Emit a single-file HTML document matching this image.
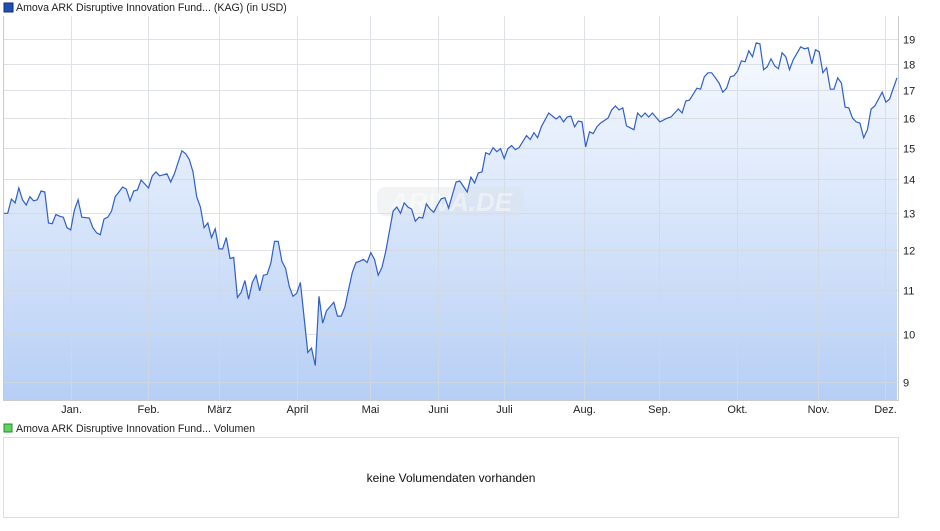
<!DOCTYPE html>
<html><head><meta charset="utf-8"><style>
body{margin:0;background:#fff;width:940px;height:526px;overflow:hidden;font-family:"Liberation Sans",Arial,sans-serif}
svg text{font-family:"Liberation Sans",Arial,sans-serif}
</style></head><body>
<svg id="c" width="940" height="526">
<defs><linearGradient id="g" x1="0" y1="0" x2="0" y2="1"><stop offset="0" stop-color="#f7faff"/><stop offset="1" stop-color="#b7cff5"/></linearGradient></defs>
<rect x="4" y="3" width="9" height="9" fill="#1f4fb0" stroke="#0d2f7a" stroke-width="1"/>
<text x="16" y="11" font-size="10.6" fill="#222">Amova ARK Disruptive Innovation Fund... (KAG) (in USD)</text>
<path id="area" fill="url(#g)"/>
<g id="grid" opacity="0.75"></g>
<g id="wm"><rect x="377" y="187" width="147" height="29" rx="8" fill="#dde1e7" opacity="0.4"/><text x="451" y="211" font-size="26" font-style="italic" font-weight="bold" fill="#ffffff" opacity="0.45" text-anchor="middle">ARIVA.DE</text></g>
<path id="line" fill="none" stroke="#2f5fc8" stroke-width="1.2"/>
<line x1="3.5" y1="16" x2="3.5" y2="401" stroke="#ccc"/>
<line x1="898.5" y1="16" x2="898.5" y2="401" stroke="#ccc"/>
<line x1="3" y1="400.5" x2="899" y2="400.5" stroke="#ccc"/>
<g id="ylab"></g><g id="xlab"></g>
<rect x="4" y="424" width="8" height="8" fill="#5fd35f" stroke="#2a8a2a"/>
<text x="16" y="432" font-size="10.6" fill="#222">Amova ARK Disruptive Innovation Fund... Volumen</text>
<rect x="3.5" y="437.5" width="895" height="80" fill="#fff" stroke="#ddd"/>
<text x="451" y="482" font-size="12" fill="#111" text-anchor="middle">keine Volumendaten vorhanden</text>
</svg>
<script>
const days=[0,1,2,3,4,5,6,7,8,9,10,11,12,13,14,15,16,17,18,19,20,21,23,24,25,26,27,28,29,30,31,32,33,34,35,36,37,39,40,41,42,44,45,46,48,49,50,51,52,53,54,55,56,57,58,59,60,61,62,63,64,65,66,67,68,69,70,71,72,73,74,75,76,77,78,79,80,82,83,84,85,86,87,89,90,91,92,93,94,95,96,97,98,99,100,101,102,103,105,106,107,108,109,110,111,112,113,114,115,116,117,118,119,120,122,123,125,126,127,128,129,130,131,132,133,134,135,136,137,138,139,141,142,143,144,145,147,149,150,151,152,153,154,155,156,157,158,159,160,161,163,164,165,166,167,168,170,171,172,173,174,175,177,179,180,182,183,184,185,187,188,189,190,191,192,193,194,195,196,197,198,199,200,201,202,203,204,205,206,207,208,209,210,211,212,213,215,216,217,218,219,220,221,222,223,224,225,226,227,228,229,230,231,232,233,234,235,237,238,239,241];
const prices=[13.00,13.00,13.41,13.30,13.74,13.39,13.24,13.48,13.36,13.39,13.65,13.62,12.73,12.71,12.97,12.92,12.89,12.60,12.54,13.09,13.39,12.89,12.87,12.60,12.46,12.41,12.84,12.89,13.06,13.48,13.62,13.77,13.71,13.36,13.65,13.68,13.98,13.74,14.10,14.23,14.11,14.17,13.92,14.17,14.90,14.81,14.62,14.23,13.48,13.18,12.60,12.73,12.33,12.57,12.03,12.03,12.33,11.78,11.81,10.82,10.94,11.23,10.78,11.18,11.36,10.98,11.36,11.38,11.66,12.23,12.23,11.71,11.53,11.08,10.85,10.92,11.18,9.60,9.69,9.33,10.85,10.23,10.51,10.71,10.39,10.39,10.60,11.01,11.43,11.68,11.71,11.76,11.68,11.93,11.76,11.36,11.56,11.96,13.06,13.18,13.00,13.30,13.18,13.12,12.78,12.89,12.87,13.27,13.12,13.03,13.24,13.42,13.45,13.15,13.92,13.95,13.62,14.07,13.89,14.20,14.23,14.84,14.78,15.00,14.87,14.97,14.65,14.97,15.07,14.94,15.00,15.40,15.27,15.50,15.33,15.70,16.18,15.97,16.07,15.87,16.04,16.07,15.70,15.90,15.87,15.03,15.53,15.47,15.70,15.83,16.00,16.29,16.43,16.29,16.36,15.73,15.60,16.18,16.04,16.18,16.04,16.18,15.87,16.00,16.04,16.32,16.18,16.61,16.64,17.08,17.04,17.51,17.66,17.66,17.47,17.27,16.93,17.08,17.51,17.55,17.74,18.13,18.09,18.53,18.29,18.85,18.81,17.78,17.90,18.21,17.93,17.82,18.45,18.29,17.78,18.17,18.69,18.61,18.65,18.01,18.57,18.49,17.66,17.86,17.04,17.04,17.47,17.27,16.39,16.36,16.00,15.87,15.83,15.33,15.60,16.32,16.43,16.93,16.57,16.68,17.47];
const yTicks=[9,10,11,12,13,14,15,16,17,18,19];
const monthLabels=["Jan.","Feb.","März","April","Mai","Juni","Juli","Aug.","Sep.","Okt.","Nov.","Dez."];
const monthDays=[18,38.9,58,79,98.8,117,135,156.5,176.8,197.8,219.7,237.8];
const NS="http://www.w3.org/2000/svg";
const x=d=>4+d*(893/241);
const lmin=Math.log(9),lmax=Math.log(19);
const y=v=>382-(Math.log(v)-lmin)/(lmax-lmin)*342.7;
const grid=document.getElementById('grid'),yl=document.getElementById('ylab'),xl=document.getElementById('xlab');
function mk(tag,at,parent){const e=document.createElementNS(NS,tag);for(const k in at)e.setAttribute(k,at[k]);parent.appendChild(e);return e;}
yTicks.forEach(v=>{
 const yy=Math.round(y(v))+0.5;
 const l=mk('line',{x1:4,x2:898,y1:yy,y2:yy,stroke:'#d4d8de'},grid);
 
 
 const t=mk('text',{x:903,y:yy+4,'font-size':11,fill:'#222'},yl);
 
 
 t.textContent=v;
});
monthDays.forEach((d,i)=>{
 const xx=Math.round(x(d))+0.5;
 const l=mk('line',{x1:xx,x2:xx,y1:16,y2:400,stroke:'#d4d8de'},grid);
 
 
 const t=mk('text',{x:xx,y:413,'font-size':11,fill:'#222','text-anchor':'middle'},xl);
 
 
 t.textContent=monthLabels[i];
});
let p='';days.forEach((d,i)=>{p+=(i?'L':'M')+x(d).toFixed(1)+','+y(prices[i]).toFixed(1);});
document.getElementById('line').setAttribute('d',p);
document.getElementById('area').setAttribute('d',p+'L'+x(days[days.length-1]).toFixed(1)+',400L'+x(days[0]).toFixed(1)+',400Z');
</script>
</body></html>
